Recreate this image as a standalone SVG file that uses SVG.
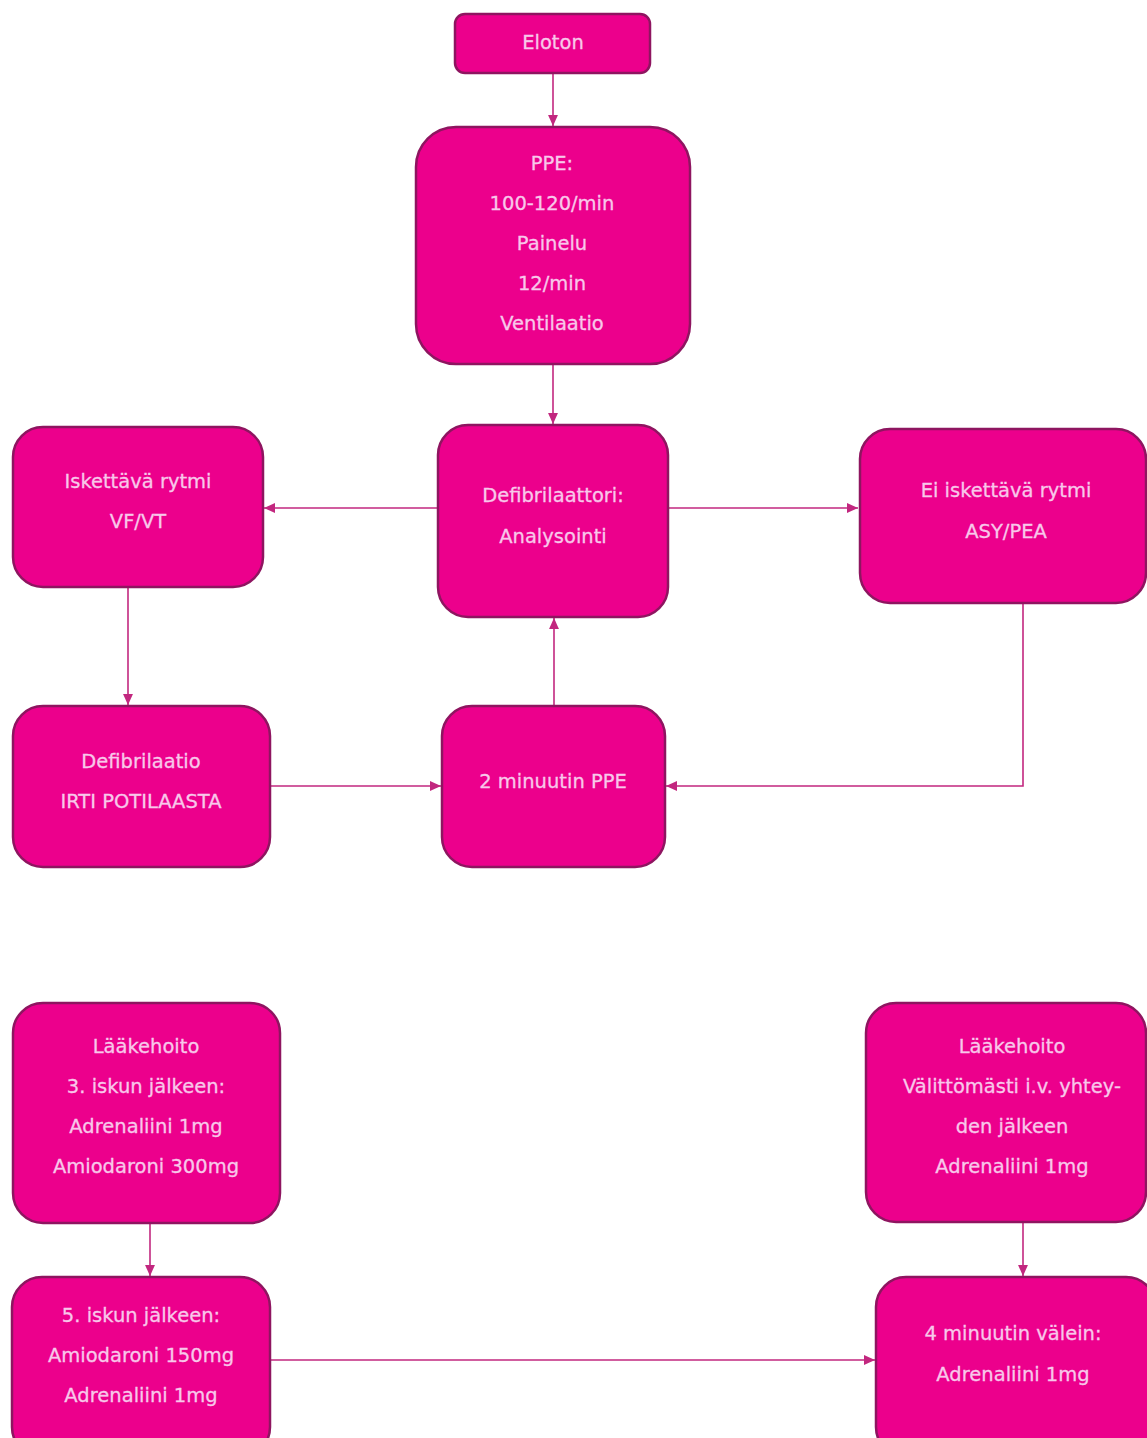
<svg xmlns="http://www.w3.org/2000/svg" width="1147" height="1438" viewBox="0 0 1147 1438">
<defs>
<style>
.box{fill:#EC008C;stroke:#8E1560;stroke-width:2.5}
.t{font-family:"DejaVu Sans",Verdana,sans-serif;font-size:19.5px;fill:#F8C8EA;stroke:#F8C8EA;stroke-width:0.3;text-anchor:middle}
.c{fill:none;stroke:#C2277F;stroke-width:1.6}
</style>
<marker id="ah" viewBox="0 0 10 10" refX="10" refY="5" markerWidth="11" markerHeight="11" markerUnits="userSpaceOnUse" orient="auto">
<path d="M0,0.5 L10,5 L0,9.5 z" fill="#C2277F"/>
</marker>
</defs>
<rect width="1147" height="1438" fill="#ffffff"/>
<g id="connectors">
<line class="c" x1="553" y1="74" x2="553" y2="126" marker-end="url(#ah)"/>
<line class="c" x1="553" y1="365" x2="553" y2="424" marker-end="url(#ah)"/>
<line class="c" x1="438" y1="508" x2="264" y2="508" marker-end="url(#ah)"/>
<line class="c" x1="668" y1="508" x2="858" y2="508" marker-end="url(#ah)"/>
<line class="c" x1="128" y1="588" x2="128" y2="705" marker-end="url(#ah)"/>
<line class="c" x1="271" y1="786" x2="441" y2="786" marker-end="url(#ah)"/>
<polyline class="c" points="1023,604 1023,786 666,786" marker-end="url(#ah)"/>
<line class="c" x1="554" y1="706" x2="554" y2="618" marker-end="url(#ah)"/>
<line class="c" x1="150" y1="1224" x2="150" y2="1276" marker-end="url(#ah)"/>
<line class="c" x1="1023" y1="1223" x2="1023" y2="1276" marker-end="url(#ah)"/>
<line class="c" x1="271" y1="1360" x2="875" y2="1360" marker-end="url(#ah)"/>
</g>
<g id="n-eloton">
<rect class="box" x="455" y="14" width="195" height="59" rx="10"/>
<text class="t" x="553" y="49">Eloton</text>
</g>
<g id="n-ppe">
<rect class="box" x="416" y="127" width="274" height="237" rx="40"/>
<text class="t" x="552" y="170">PPE:</text>
<text class="t" x="552" y="210">100-120/min</text>
<text class="t" x="552" y="250">Painelu</text>
<text class="t" x="552" y="290">12/min</text>
<text class="t" x="552" y="330">Ventilaatio</text>
</g>
<g id="n-analyysi">
<rect class="box" x="438" y="425" width="230" height="192" rx="30"/>
<text class="t" x="553" y="502">Defibrilaattori:</text>
<text class="t" x="553" y="543">Analysointi</text>
</g>
<g id="n-iskettava">
<rect class="box" x="13" y="427" width="250" height="160" rx="30"/>
<text class="t" x="138" y="488">Iskettävä rytmi</text>
<text class="t" x="138" y="528">VF/VT</text>
</g>
<g id="n-ei-iskettava">
<rect class="box" x="860" y="429" width="286" height="174" rx="30"/>
<text class="t" x="1006" y="497">Ei iskettävä rytmi</text>
<text class="t" x="1006" y="538">ASY/PEA</text>
</g>
<g id="n-defibrilaatio">
<rect class="box" x="13" y="706" width="257" height="161" rx="30"/>
<text class="t" x="141" y="768">Defibrilaatio</text>
<text class="t" x="141" y="808">IRTI POTILAASTA</text>
</g>
<g id="n-2min">
<rect class="box" x="442" y="706" width="223" height="161" rx="30"/>
<text class="t" x="553" y="788">2 minuutin PPE</text>
</g>
<g id="n-laake-vasen">
<rect class="box" x="13" y="1003" width="267" height="220" rx="30"/>
<text class="t" x="146" y="1053">Lääkehoito</text>
<text class="t" x="146" y="1093">3. iskun jälkeen:</text>
<text class="t" x="146" y="1133">Adrenaliini 1mg</text>
<text class="t" x="146" y="1173">Amiodaroni 300mg</text>
</g>
<g id="n-laake-oikea">
<rect class="box" x="866" y="1003" width="280" height="219" rx="30"/>
<text class="t" x="1012" y="1053">Lääkehoito</text>
<text class="t" x="1012" y="1093">Välittömästi i.v. yhtey-</text>
<text class="t" x="1012" y="1133">den jälkeen</text>
<text class="t" x="1012" y="1173">Adrenaliini 1mg</text>
</g>
<g id="n-5isku">
<rect class="box" x="12" y="1277" width="258" height="180" rx="30"/>
<text class="t" x="141" y="1322">5. iskun jälkeen:</text>
<text class="t" x="141" y="1362">Amiodaroni 150mg</text>
<text class="t" x="141" y="1402">Adrenaliini 1mg</text>
</g>
<g id="n-4min">
<rect class="box" x="876" y="1277" width="280" height="180" rx="30"/>
<text class="t" x="1013" y="1340">4 minuutin välein:</text>
<text class="t" x="1013" y="1381">Adrenaliini 1mg</text>
</g>
</svg>
